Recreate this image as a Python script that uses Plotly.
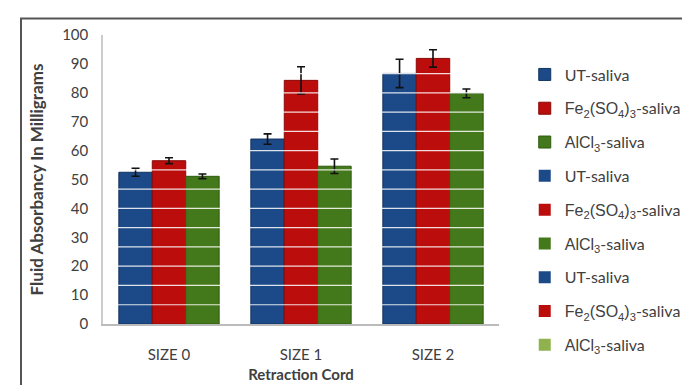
import plotly.graph_objects as go

categories = ["SIZE 0", "SIZE 1", "SIZE 2"]
ut_saliva = [52.5, 64.0, 86.7]
ut_err = [1.4, 1.8, 4.9]
fe_saliva = [56.5, 84.3, 91.9]
fe_err = [1.0, 4.7, 3.0]
al_saliva = [51.1, 54.6, 79.8]
al_err = [0.8, 2.5, 1.5]

series_names = ["UT-saliva",
                '<span style="font-family:Liberation Sans">Fe<sub>2</sub>(SO<sub>4</sub>)<sub>3</sub></span>-saliva',
                '<span style="font-family:Liberation Sans">AlCl<sub>3</sub></span>-saliva']
colors = ["#1C4A88", "#BC0D0D", "#43791A"]
edge_colors = ["#12335f", "#8a0808", "#2f5a10"]
legend_colors = [colors, colors, ["#1C4A88", "#BC0D0D", "#8FB24E"]]

values = [ut_saliva, fe_saliva, al_saliva]
errors = [ut_err, fe_err, al_err]

fig = go.Figure()
for i in range(3):
    fig.add_trace(go.Bar(
        x=categories, y=values[i], name=series_names[i],
        offsetgroup=str(i), legendgroup="g0_%d" % i,
        marker=dict(color=colors[i], line=dict(color=edge_colors[i], width=1)),
        error_y=dict(type="data", array=errors[i], color="#111111", thickness=1.6, width=4),
    ))
# repeated legend entries (as in the original chart): zero-height placeholders
for rep in (1, 2):
    for i in range(3):
        fig.add_trace(go.Bar(
            x=[categories[0]], y=[0], name=series_names[i], offsetgroup=str(i),
            legendgroup="g%d_%d" % (rep, i), hoverinfo="skip",
            marker=dict(color=legend_colors[rep][i], line=dict(width=0)),
        ))

# white horizontal lines drawn over the bars (as in source chart)
line_levels = [k * 100 / 15 for k in range(1, 14)]
shapes = []
for lv in line_levels:
    shapes.append(dict(type="line", xref="paper", yref="y", x0=0.01, x1=0.99, y0=lv, y1=lv,
                       line=dict(color="rgba(255,255,255,0.85)", width=1.2), layer="above"))
# outer frame
shapes.append(dict(type="rect", xref="paper", yref="paper",
                   x0=(7 - 95) / 425, x1=1.5, y0=-0.3, y1=(327 - 10) / 300,
                   line=dict(color="#555555", width=2), fillcolor="rgba(0,0,0,0)", layer="below"))

fig.update_layout(
    width=690, height=385,
    margin=dict(l=95, r=170, t=27, b=58),
    paper_bgcolor="white", plot_bgcolor="white",
    barmode="group", bargap=0.24, bargroupgap=0,
    font=dict(family="Lato", color="#404040"),
    shapes=shapes,
    legend=dict(x=1.065, xanchor="left", y=0.922, yanchor="top",
                font=dict(size=16, color="#404040", family="Lato"),
                tracegroupgap=10, bgcolor="rgba(0,0,0,0)", maxheight=380),
    xaxis=dict(showline=True, linecolor="#BBBBBB", linewidth=1.5, showgrid=False,
               ticks="", tickfont=dict(size=15, color="#404040"), ticklabelstandoff=16,
               title=dict(text="<b>Retraction Cord</b>", font=dict(size=15, color="#404040"), standoff=8)),
    yaxis=dict(range=[0, 100], dtick=10, showline=True, linecolor="#CCCCCC", linewidth=1.5,
               showgrid=False, zeroline=False, ticks="", ticklabelstandoff=10,
               tickfont=dict(size=15, color="#404040"),
               title=dict(text="<b>Fluid Absorbancy In Milligrams</b>", font=dict(size=17, color="#404040"), standoff=14)),
)

fig.write_html("out.html")
